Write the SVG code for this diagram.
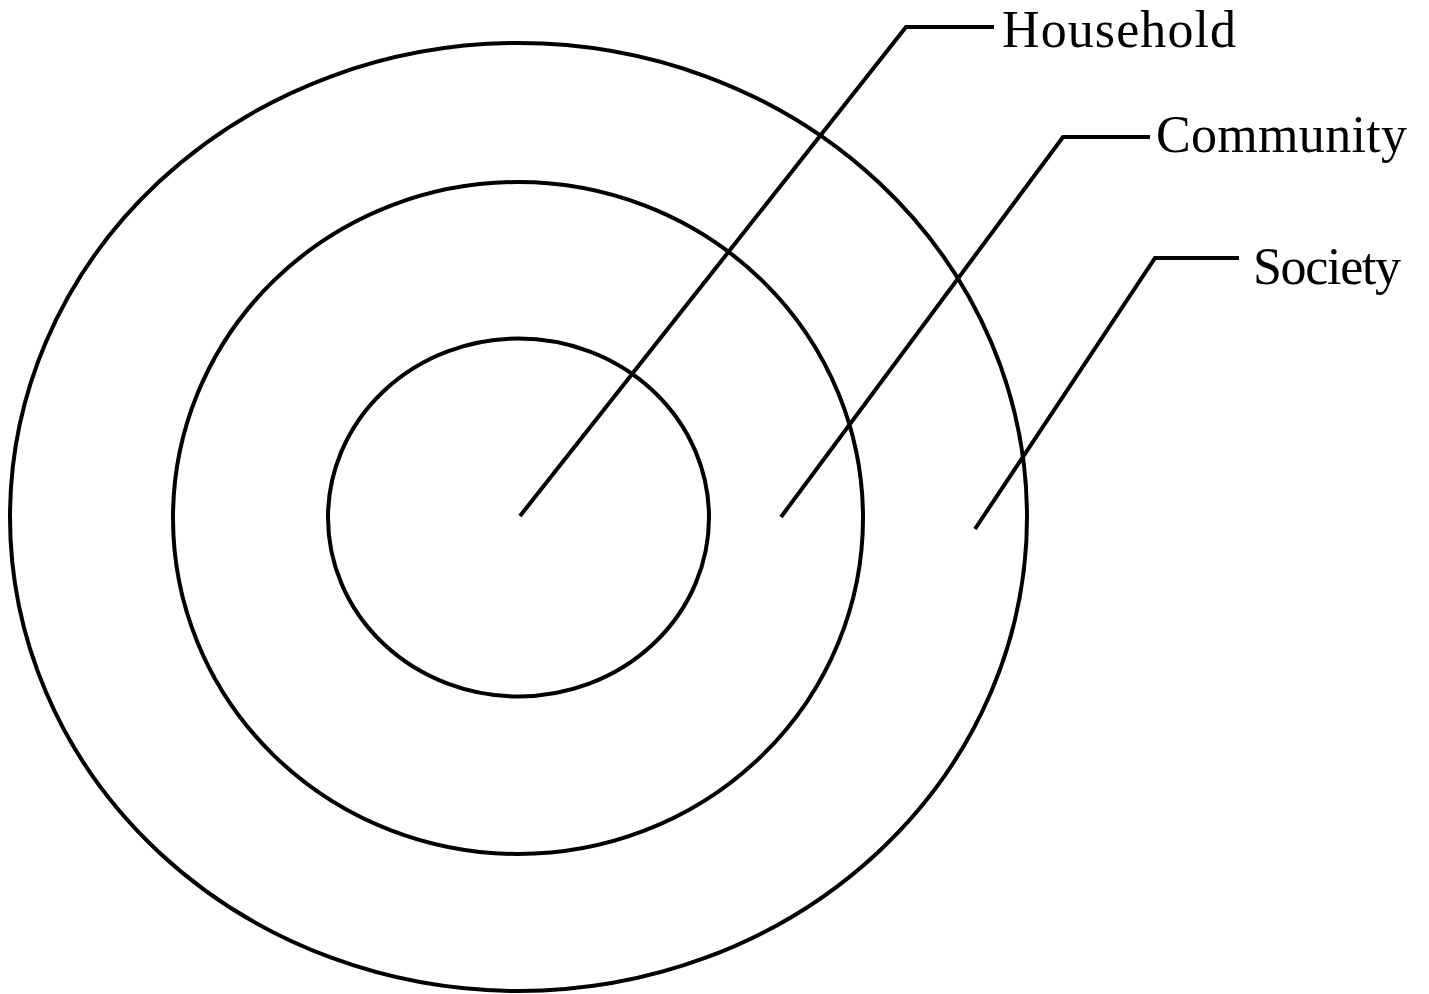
<svg xmlns="http://www.w3.org/2000/svg" width="1429" height="994" viewBox="0 0 1429 994">
<style>
.ring{fill:none;stroke:#000;stroke-width:4}
.lead{fill:none;stroke:#000;stroke-width:4;stroke-linejoin:miter}
.lbl{font-family:"Liberation Serif","Times New Roman",serif;font-size:52px;fill:#000}
</style>
<rect width="1429" height="994" fill="#fff"/>
<g id="society"><ellipse class="ring" cx="518.5" cy="517" rx="508.5" ry="474"/></g>
<g id="community"><ellipse class="ring" cx="518" cy="518" rx="345" ry="336"/></g>
<g id="household"><ellipse class="ring" cx="518.5" cy="517.5" rx="190.5" ry="179"/></g>
<g id="connectors">
<polyline class="lead" points="520,516 906,27 994,27"/>
<polyline class="lead" points="781,517 1063,137 1150,137"/>
<polyline class="lead" points="975,529 1155,258 1239,258"/>
</g>
<g id="labels">
<text class="lbl" x="1002" y="47" textLength="234" lengthAdjust="spacing">Household</text>
<text class="lbl" x="1156" y="152" textLength="251" lengthAdjust="spacing">Community</text>
<text class="lbl" x="1253" y="284" textLength="148" lengthAdjust="spacing">Society</text>
</g>
</svg>
